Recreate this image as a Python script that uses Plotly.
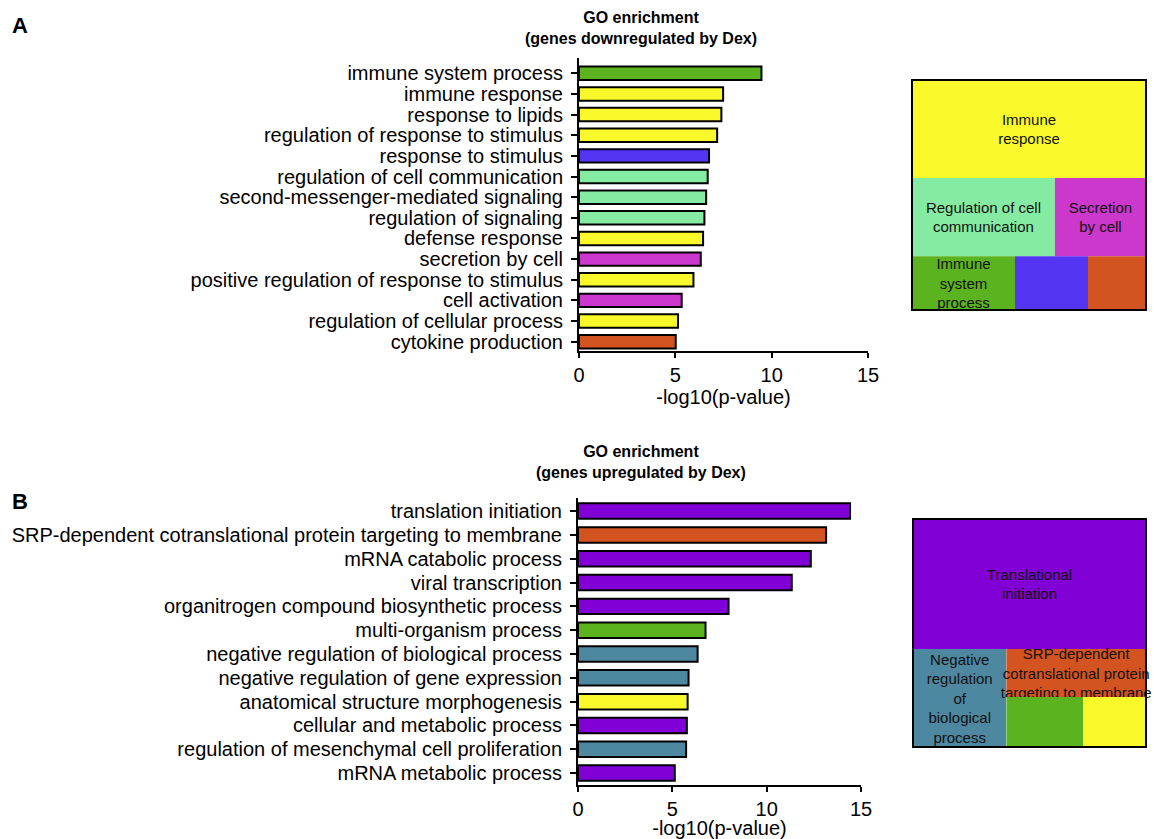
import plotly.graph_objects as go

# ---------------- data ----------------
down_terms = ["immune system process", "immune response", "response to lipids",
              "regulation of response to stimulus", "response to stimulus",
              "regulation of cell communication", "second-messenger-mediated signaling",
              "regulation of signaling", "defense response", "secretion by cell",
              "positive regulation of response to stimulus", "cell activation",
              "regulation of cellular process", "cytokine production"]
down_values = [9.47, 7.48, 7.39, 7.17, 6.75, 6.68, 6.60, 6.51, 6.44, 6.32, 5.94, 5.33, 5.14, 5.02]
down_groups = ["green", "yellow", "yellow", "yellow", "blue", "lgreen", "lgreen", "lgreen",
               "yellow", "magenta", "yellow", "magenta", "yellow", "orange"]

up_terms = ["translation initiation",
            "SRP-dependent cotranslational protein targeting to membrane",
            "mRNA catabolic process", "viral transcription",
            "organitrogen compound biosynthetic process", "multi-organism process",
            "negative regulation of biological process", "negative regulation of gene expression",
            "anatomical structure morphogenesis", "cellular and metabolic process",
            "regulation of mesenchymal cell proliferation", "mRNA metabolic process"]
up_values = [14.42, 13.15, 12.34, 11.33, 7.98, 6.76, 6.34, 5.86, 5.81, 5.77, 5.73, 5.13]
up_groups = ["purple", "orange", "purple", "purple", "purple", "green", "steel", "steel",
             "yellow", "purple", "steel", "purple"]

x_ticks = [0, 5, 10, 15]

# treemap A (hierarchy: rows stacked top-to-bottom, cells side by side)
tmA_ids = ["A", "A_immresp", "A_r2", "A_regcell", "A_secr", "A_r3", "A_imsys", "A_resp", "A_cyto"]
tmA_parents = ["", "A", "A", "A_r2", "A_r2", "A", "A_r3", "A_r3", "A_r3"]
tmA_labels = ["root", "Immune response", "row 2", "Regulation of cell communication",
              "Secretion by cell", "row 3", "Immune system process", "Response to stimulus",
              "Cytokine production"]
tmA_text = ["", "Immune<br>response", "", "Regulation of cell<br>communication",
            "Secretion<br>by cell", "", "Immune<br>system<br>process", "", ""]
tmA_leaf_values = {"A_immresp": 42.6, "A_regcell": 20.7, "A_secr": 13.2,
                   "A_imsys": 10.3, "A_resp": 7.3, "A_cyto": 5.8}
tmA_groups = ["white", "yellow", "white", "lgreen", "magenta", "white", "green", "blue", "orange"]

tmB_ids = ["B", "B_trans", "B_r2", "B_neg", "B_col", "B_srp", "B_row", "B_multi", "B_anat"]
tmB_parents = ["", "B", "B", "B_r2", "B_r2", "B_col", "B_col", "B_row", "B_row"]
tmB_labels = ["root", "Translational initiation", "row 2",
              "Negative regulation of biological process", "column",
              "SRP-dependent cotranslational protein targeting to membrane", "row",
              "Multi-organism process", "Anatomical structure morphogenesis"]
tmB_text = ["", "Translational<br>initiation", "",
            "Negative<br>regulation<br>of<br>biological<br>process", "",
            "SRP-dependent<br>cotranslational protein<br>targeting to membrane", "", "", ""]
tmB_leaf_values = {"B_trans": 57.0, "B_neg": 17.2, "B_srp": 12.6, "B_multi": 7.2, "B_anat": 5.9}
tmB_groups = ["white", "purple", "white", "steel", "white", "orange", "white", "green", "yellow"]

# ---------------- styles ----------------
COLORS = {"green": "#5BB31F", "yellow": "#F8F82A", "blue": "#5335F3", "lgreen": "#86EBA2",
          "magenta": "#CC37CC", "orange": "#D45421", "purple": "#8000D6", "steel": "#4D87A0",
          "white": "#FFFFFF"}
FONT = "Arial, 'Liberation Sans', Helvetica, sans-serif"
W, H = 1154, 839


def px_x(p):
    return p / W


def px_y(p):
    return 1 - p / H


def totals(ids, parents, leaf_values):
    vals = {i: leaf_values.get(i, 0.0) for i in ids}
    for i in ids:
        if i in leaf_values:
            p = parents[ids.index(i)]
            while p:
                vals[p] += leaf_values[i]
                p = parents[ids.index(p)]
    return [round(vals[i], 4) for i in ids]


fig = go.Figure()

# ---------------- bar charts ----------------
fig.add_trace(go.Bar(
    x=down_values, y=down_terms, orientation="h", width=0.65,
    marker=dict(color=[COLORS[g] for g in down_groups], line=dict(color="black", width=2)),
    xaxis="x", yaxis="y", showlegend=False))

fig.add_trace(go.Bar(
    x=up_values, y=up_terms, orientation="h", width=0.65,
    marker=dict(color=[COLORS[g] for g in up_groups], line=dict(color="black", width=2)),
    xaxis="x2", yaxis="y2", showlegend=False))

# ---------------- treemaps ----------------
tmA_dom = dict(x=[px_x(912), px_x(1146)], y=[px_y(310), px_y(80)])
tmB_dom = dict(x=[px_x(913), px_x(1146)], y=[px_y(747), px_y(519)])

for ids, parents, labels, text, leaves, groups, dom in [
        (tmA_ids, tmA_parents, tmA_labels, tmA_text, tmA_leaf_values, tmA_groups, tmA_dom),
        (tmB_ids, tmB_parents, tmB_labels, tmB_text, tmB_leaf_values, tmB_groups, tmB_dom)]:
    fig.add_trace(go.Treemap(
        ids=ids, parents=parents, labels=labels, text=text,
        values=totals(ids, parents, leaves), branchvalues="total", sort=False,
        textinfo="text", textposition="middle center",
        textfont=dict(family=FONT, size=15, color="#111111"),
        marker=dict(colors=[COLORS[g] for g in groups], line=dict(width=0),
                    pad=dict(t=0, l=0, r=0, b=0)),
        tiling=dict(packing="dice-slice", pad=0),
        pathbar=dict(visible=False),
        hoverinfo="label",
        domain=dom))

# frames around treemaps
for dom in (tmA_dom, tmB_dom):
    fig.add_shape(type="rect", xref="paper", yref="paper",
                  x0=dom["x"][0], x1=dom["x"][1], y0=dom["y"][0], y1=dom["y"][1],
                  line=dict(color="black", width=2), fillcolor="rgba(0,0,0,0)")

axis_common = dict(showline=True, linecolor="black", linewidth=2, ticks="outside",
                   tickcolor="black", tickwidth=2, showgrid=False, zeroline=False,
                   automargin=False,
                   tickfont=dict(family=FONT, size=20, color="black"))
xtitle = dict(text="-log10(p-value)", font=dict(family=FONT, size=20, color="black"), standoff=0)

fig.update_layout(
    width=W, height=H, margin=dict(l=0, r=0, t=0, b=0, autoexpand=False),
    paper_bgcolor="white", plot_bgcolor="white",
    font=dict(family=FONT, color="black"),
    uniformtext=dict(minsize=15, mode="show"),
    xaxis=dict(domain=[px_x(579), px_x(868)], anchor="y", range=[0, 15],
               tickvals=x_ticks, ticklen=5, title=xtitle, **axis_common),
    yaxis=dict(domain=[px_y(351), px_y(58)], anchor="x", type="category",
               range=[len(down_terms) - 1 + 0.45, -0.74], ticklen=6, dtick=1,
               ticklabelstandoff=4, **axis_common),
    xaxis2=dict(domain=[px_x(578), px_x(861)], anchor="y2", range=[0, 15],
                tickvals=x_ticks, ticklen=5, title=xtitle, **axis_common),
    yaxis2=dict(domain=[px_y(785), px_y(498)], anchor="x2", type="category",
                range=[len(up_terms) - 1 + 0.5, -0.55], ticklen=6, dtick=1,
                ticklabelstandoff=4, **axis_common),
)

fig.add_annotation(text="<b>GO enrichment</b><br><b>(genes downregulated by Dex)</b>",
                   xref="paper", yref="paper", x=px_x(641), y=px_y(7), xanchor="center",
                   yanchor="top", showarrow=False, align="center",
                   font=dict(family=FONT, size=16, color="black"))
fig.add_annotation(text="<b>GO enrichment</b><br><b>(genes upregulated by Dex)</b>",
                   xref="paper", yref="paper", x=px_x(641), y=px_y(441), xanchor="center",
                   yanchor="top", showarrow=False, align="center",
                   font=dict(family=FONT, size=16, color="black"))
fig.add_annotation(text="<b>A</b>", xref="paper", yref="paper", x=px_x(10), y=px_y(26),
                   xanchor="left", yanchor="middle", showarrow=False,
                   font=dict(family=FONT, size=22, color="black"))
fig.add_annotation(text="<b>B</b>", xref="paper", yref="paper", x=px_x(10), y=px_y(501),
                   xanchor="left", yanchor="middle", showarrow=False,
                   font=dict(family=FONT, size=22, color="black"))

fig.write_html("out.html", config={"displayModeBar": False},
               post_script="document.body.style.margin='0px';")
